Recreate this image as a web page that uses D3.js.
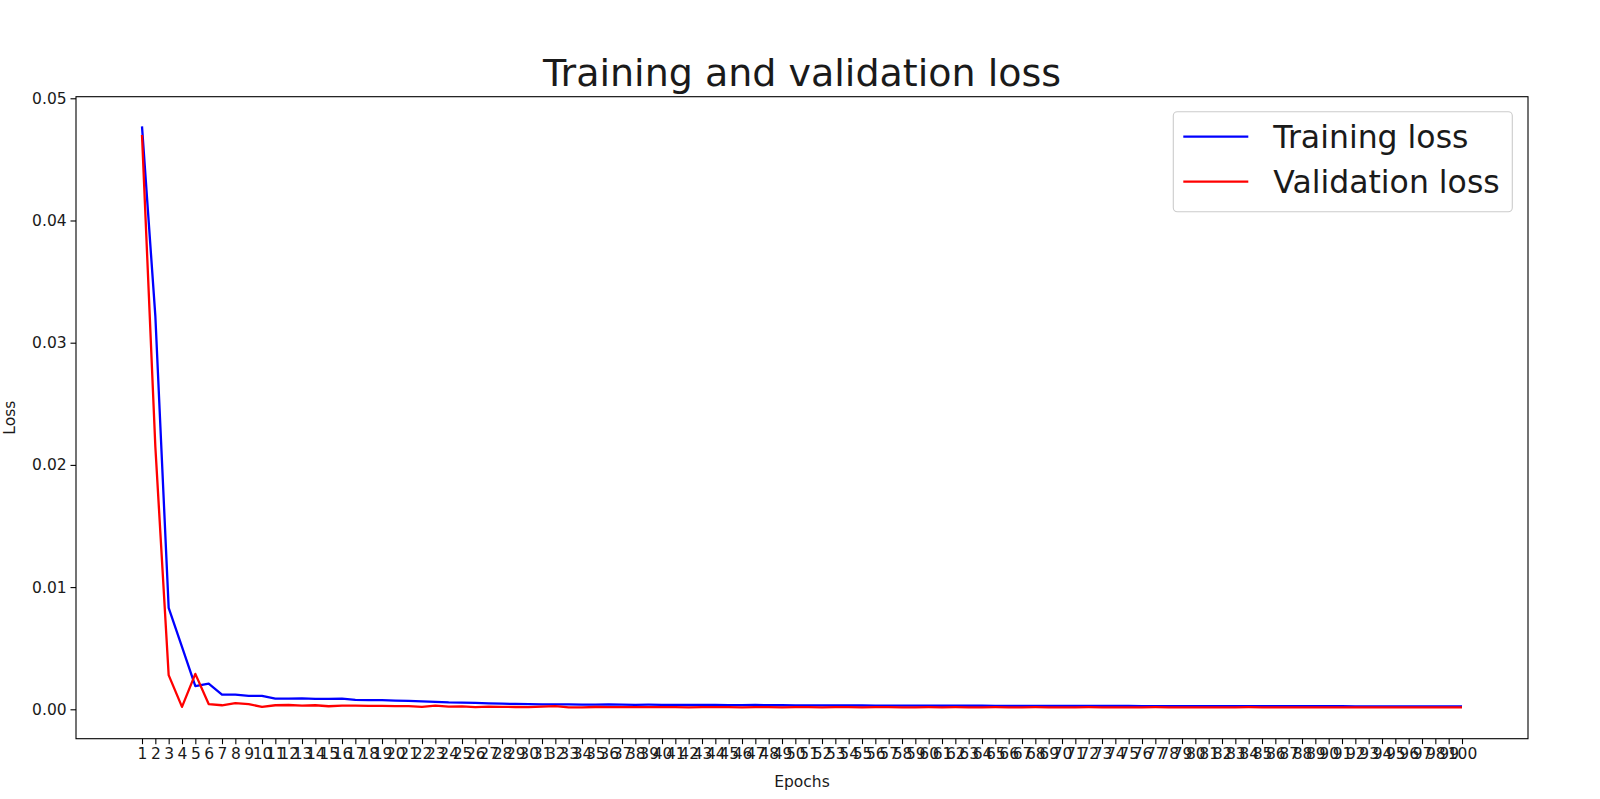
<!DOCTYPE html>
<html>
<head>
<meta charset="utf-8">
<script src="https://cdn.jsdelivr.net/npm/d3@7"></script>
<style>
  body { margin: 0; background: #fff; }
  svg { font-family: "DejaVu Sans", sans-serif; }
</style>
</head>
<body>
<script>
const epochs = d3.range(1, 101);

const trainingLoss = [
  0.0477, 0.0322, 0.0083, 0.0051, 0.0019, 0.0021, 0.0012, 0.0012, 0.0011, 0.0011,
  0.00088, 0.00087, 0.00090, 0.00086, 0.00086, 0.00087, 0.00077, 0.00075, 0.00075, 0.00071,
  0.00069, 0.00065, 0.00060, 0.00056, 0.00055, 0.00052, 0.00049, 0.00046, 0.00044, 0.00043,
  0.00040, 0.00041, 0.00040, 0.00039, 0.00039, 0.00040, 0.00038, 0.00037, 0.00038, 0.00037,
  0.00036, 0.00035, 0.00036, 0.00035, 0.00034, 0.00034, 0.00035, 0.00033, 0.00033, 0.00032,
  0.00032, 0.00032, 0.00031, 0.00031, 0.00031, 0.00030, 0.00030, 0.00030, 0.00030, 0.00029,
  0.00029, 0.00029, 0.00029, 0.00029, 0.00028, 0.00028, 0.00028, 0.00028, 0.00028, 0.00027,
  0.00027, 0.00027, 0.00027, 0.00027, 0.00027, 0.00026, 0.00026, 0.00026, 0.00026, 0.00026,
  0.00026, 0.00025, 0.00025, 0.00025, 0.00025, 0.00025, 0.00025, 0.00025, 0.00025, 0.00025,
  0.00025, 0.00024, 0.00024, 0.00024, 0.00024, 0.00024, 0.00024, 0.00024, 0.00024, 0.00024
];

const validationLoss = [
  0.0470, 0.0215, 0.0028, 0.0002, 0.0029, 0.00043, 0.00033, 0.00050, 0.00042, 0.00020,
  0.00033, 0.00035, 0.00030, 0.00033, 0.00025, 0.00030, 0.00030, 0.00028, 0.00028, 0.00026,
  0.00026, 0.00020, 0.00030, 0.00022, 0.00024, 0.00018, 0.00022, 0.00020, 0.00019, 0.00018,
  0.00022, 0.00026, 0.00016, 0.00015, 0.00019, 0.00018, 0.00017, 0.00018, 0.00017, 0.00018,
  0.00017, 0.00016, 0.00017, 0.00018, 0.00017, 0.00016, 0.00017, 0.00017, 0.00016, 0.00017,
  0.00017, 0.00016, 0.00017, 0.00017, 0.00016, 0.00017, 0.00017, 0.00016, 0.00016, 0.00017,
  0.00016, 0.00017, 0.00016, 0.00016, 0.00017, 0.00016, 0.00016, 0.00017, 0.00016, 0.00016,
  0.00016, 0.00017, 0.00016, 0.00016, 0.00016, 0.00016, 0.00017, 0.00016, 0.00016, 0.00016,
  0.00016, 0.00016, 0.00016, 0.00017, 0.00016, 0.00016, 0.00016, 0.00016, 0.00016, 0.00016,
  0.00016, 0.00016, 0.00016, 0.00015, 0.00016, 0.00016, 0.00016, 0.00016, 0.00015, 0.00016
];

const yTicks = [0, 0.01, 0.02, 0.03, 0.04, 0.05];

const width = 1600;
const height = 799;
const plotLeft = 76, plotRight = 1528, plotTop = 96.7, plotBottom = 738.7;
const smallFont = 15.5;
const textColor = "#1a1a1a";

const svg = d3.select("body").append("svg")
  .attr("width", width)
  .attr("height", height);

const xScale = d3.scaleLinear()
  .domain([1 - 4.95, 100 + 4.95])
  .range([plotLeft, plotRight]);

const yScale = d3.scaleLinear()
  .domain([-0.002406, 0.05013])
  .range([plotBottom, plotTop]);

// x axis, one tick per epoch (labels overlap, as in the original)
const xAxis = d3.axisBottom(xScale)
  .tickValues(epochs)
  .tickFormat(d3.format("d"))
  .tickSize(5.5)
  .tickPadding(3.5);

const gx = svg.append("g")
  .attr("transform", `translate(0, ${plotBottom})`)
  .call(xAxis);
gx.select(".domain").remove();
gx.selectAll("text").attr("font-size", smallFont).attr("fill", textColor).attr("font-family", "DejaVu Sans");
gx.selectAll("line").attr("stroke", "#000").attr("stroke-width", 1.1);

const yAxis = d3.axisLeft(yScale)
  .tickValues(yTicks)
  .tickFormat(d3.format(".2f"))
  .tickSize(5.5)
  .tickPadding(3.9);

const gy = svg.append("g")
  .attr("transform", `translate(${plotLeft}, 0)`)
  .call(yAxis);
gy.select(".domain").remove();
gy.selectAll("text").attr("font-size", smallFont).attr("fill", textColor).attr("font-family", "DejaVu Sans");
gy.selectAll("line").attr("stroke", "#000").attr("stroke-width", 1.1);

const line = (vals) => d3.line()
  .x((d, i) => xScale(epochs[i]))
  .y((d) => yScale(d))(vals);

svg.append("path")
  .attr("d", line(trainingLoss))
  .attr("fill", "none")
  .attr("stroke", "#0000ff")
  .attr("stroke-width", 2.3)
  .attr("stroke-linejoin", "round");

svg.append("path")
  .attr("d", line(validationLoss))
  .attr("fill", "none")
  .attr("stroke", "#ff0000")
  .attr("stroke-width", 2.3)
  .attr("stroke-linejoin", "round");

// axes frame
svg.append("rect")
  .attr("x", plotLeft)
  .attr("y", plotTop)
  .attr("width", plotRight - plotLeft)
  .attr("height", plotBottom - plotTop)
  .attr("fill", "none")
  .attr("stroke", "#000")
  .attr("stroke-width", 1.1);

svg.append("text")
  .attr("x", (plotLeft + plotRight) / 2)
  .attr("y", 86)
  .attr("text-anchor", "middle")
  .attr("font-size", 38)
  .attr("fill", textColor)
  .text("Training and validation loss");

svg.append("text")
  .attr("x", (plotLeft + plotRight) / 2)
  .attr("y", 787)
  .attr("text-anchor", "middle")
  .attr("font-size", smallFont)
  .attr("fill", textColor)
  .text("Epochs");

svg.append("text")
  .attr("transform", `translate(15, ${(plotTop + plotBottom) / 2}) rotate(-90)`)
  .attr("text-anchor", "middle")
  .attr("font-size", smallFont)
  .attr("fill", textColor)
  .text("Loss");

// legend
const legend = svg.append("g");
legend.append("rect")
  .attr("x", 1173.3)
  .attr("y", 111.7)
  .attr("width", 339)
  .attr("height", 100)
  .attr("rx", 4)
  .attr("fill", "#fff")
  .attr("fill-opacity", 0.8)
  .attr("stroke", "#cccccc")
  .attr("stroke-width", 1.1);

const legendItems = [
  { name: "Training loss", color: "#0000ff" },
  { name: "Validation loss", color: "#ff0000" }
];

legendItems.forEach((item, i) => {
  const y = 136.7 + i * 45;
  legend.append("line")
    .attr("x1", 1183.3).attr("x2", 1248.3)
    .attr("y1", y).attr("y2", y)
    .attr("stroke", item.color)
    .attr("stroke-width", 2.3);
  legend.append("text")
    .attr("x", 1273.3)
    .attr("y", y)
    .attr("dy", "0.36em")
    .attr("font-size", 31.5)
    .attr("fill", textColor)
    .text(item.name);
});
</script>
</body>
</html>
